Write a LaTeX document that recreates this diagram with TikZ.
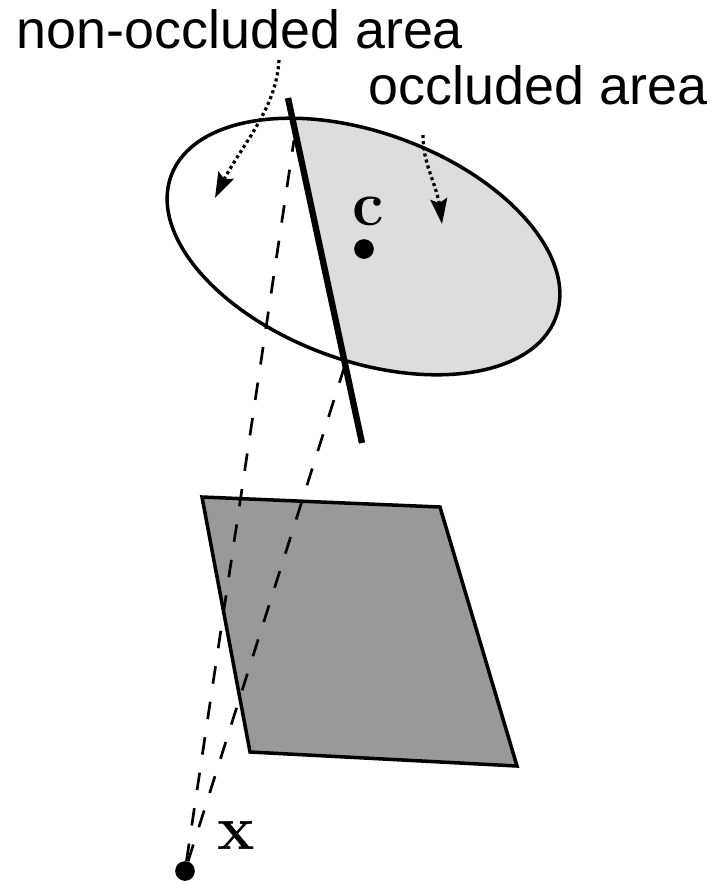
\documentclass[tikz,border=0pt]{standalone}
\usepackage{amsmath,amssymb}
\usepackage[no-math]{fontspec}
\setmainfont{Liberation Sans}
\usepackage{xcolor}
\usetikzlibrary{arrows.meta,bending,positioning}
\definecolor{occgray}{RGB}{221,221,221}
\definecolor{platgray}{RGB}{153,153,153}
\tikzset{
    outline/.style={black,line width=2.5pt},
    sightline/.style={black,line width=1.9pt,dash pattern=on 12.5pt off 13pt},
    pointer/.style={black,line width=2.3pt,dash pattern=on 2.2pt off 2.2pt,-{Stealth[length=18pt,width=12pt,inset=3pt,flex=1]}},
    blob/.style={circle,fill=black,inner sep=0pt,minimum size=14pt},
    caption/.style={inner sep=0pt,font=\fontsize{38.3}{38.3}\selectfont},
    vecname/.style={inner sep=0pt,scale=1.8,font=\fontsize{42}{42}\selectfont}
}

\begin{document}
\begin{tikzpicture}[x=0.025cm,y=-0.025cm]
    \useasboundingbox (0,0) rectangle (715,884);
    \coordinate (edgetop) at (288,98);
    \coordinate (edgebot) at (362,443);
    \coordinate (leftend) at (294,140);
    \coordinate (rightend) at (345,365);
    % shaded part of the ellipse
    \begin{scope}
        \clip (edgetop) -- (edgebot) -- (715,443) -- (715,98) -- cycle;
        \fill[occgray] (363.5,246.5) ellipse [x radius=205,y radius=114,rotate=-20.2];
    \end{scope}
    \draw[outline] (363.5,246.5) ellipse [x radius=205,y radius=114,rotate=-20.2];
    \draw[outline,fill=platgray,line join=miter] (202,497) -- (440,507) -- (517,766) -- (250,752) -- cycle;
    \draw[black,line width=4.5pt] (edgetop) -- (edgebot);
    \node[blob] (c) at (364,249) {};
    \node[blob] (x) at (185,871) {};
    \draw[sightline] (x) -- (leftend);
    \draw[sightline] (x) -- (rightend);
    \node[vecname] at (368,211) {$\mathbf{c}$};
    \node[vecname] at (236,835) {$\mathbf{x}$};
    \node[caption] (nonocc) at (240,29) {non-occluded area};
    \node[caption] (occ) at (538,85) {occluded area};
    \coordinate (nonstart) at (279,60);
    \coordinate (nontip) at (215,198);
    \coordinate (occstart) at (423,135);
    \coordinate (occtip) at (442,224);
    \draw[pointer] (nonstart) .. controls (276,115) and (235,150) .. (nontip);
    \draw[pointer] (occstart) .. controls (423,170) and (440,185) .. (occtip);
\end{tikzpicture}
\end{document}
